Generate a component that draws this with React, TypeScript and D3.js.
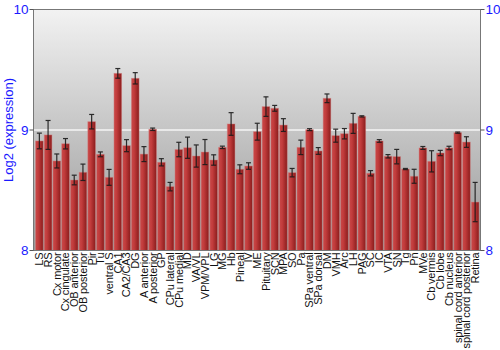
import React from "react";
import * as d3 from "d3";

const categories = ["LS","RS","Cx motor","Cx cingulate","OB anterior","OB posterior","Pir","Tu","ventral S","CA1","CA2/CA3","DG","A anterior","A posterior","GP","CPu lateral","CPu medial","MD","VA/VL","VPM/VPL","LG","MG","Hb","Pineal","IV","ME","Pituitary","SCN","MPA","SO","Pa","SPa ventral","SPa dorsal","DM","VMH","Arc","LH","PAG","SC","IC","VTA","SN","Tg","Pn","MVe","Cb vermis","Cb lobe","Cb nucleus","spinal cord anterior","spinal cord posterior","Retina"];
const values = [8.909,8.959,8.743,8.886,8.585,8.649,9.069,8.798,8.607,9.470,8.870,9.429,8.800,9.006,8.732,8.530,8.838,8.853,8.784,8.817,8.751,8.856,9.050,8.674,8.701,8.986,9.194,9.180,9.041,8.646,8.856,9.003,8.826,9.263,8.953,8.969,9.055,9.113,8.641,8.909,8.782,8.779,8.676,8.616,8.851,8.740,8.809,8.851,8.978,8.900,8.402];
const errors = [0.065,0.12,0.058,0.043,0.04,0.068,0.06,0.02,0.066,0.04,0.05,0.047,0.062,0.01,0.03,0.035,0.06,0.088,0.092,0.104,0.043,0.01,0.094,0.037,0.027,0.07,0.081,0.024,0.053,0.035,0.06,0.008,0.028,0.036,0.054,0.043,0.083,0.005,0.022,0.011,0.014,0.06,0.005,0.058,0.012,0.088,0.022,0.014,0.005,0.044,0.163];
const yTicks = [8, 9, 10];

export default function App() {
  const W = 500, H = 350;
  const left = 33.5, right = 480.5, top = 9.5, bottom = 250.5;
  const x = d3.scaleBand<string>().domain(categories).range([35, 479.5]).paddingInner(0.12).paddingOuter(0.06);
  const y = d3.scaleLinear().domain([8, 10]).range([bottom, top]);
  const bw = x.bandwidth();
  return (
    <svg width={W} height={H} style={{ position: "absolute", left: 0, top: 0, fontFamily: "'Liberation Sans', Arial, sans-serif" }}>
      <defs>
        <linearGradient id="bg" x1="0" y1="0" x2="0" y2="1">
          <stop offset="0%" stopColor="#f2f2f2" />
          <stop offset="100%" stopColor="#989898" />
        </linearGradient>
        <linearGradient id="bar" x1="0" y1="0" x2="1" y2="0">
          <stop offset="0%" stopColor="#c84848" />
          <stop offset="35%" stopColor="#c23c3c" />
          <stop offset="100%" stopColor="#8a1c1c" />
        </linearGradient>
      </defs>
      <rect x={left} y={top} width={right - left} height={bottom - top} fill="url(#bg)" />
      <line x1={left} x2={right} y1={y(9)} y2={y(9)} stroke="#f4f4f4" strokeWidth={1.5} />
      {categories.map((c, i) => {
        const bx = x(c)!;
        const ty = y(values[i]);
        return (
          <rect key={c} x={bx} y={ty} width={bw} height={bottom - ty} fill="url(#bar)" stroke="rgba(210,130,130,0.55)" strokeWidth={0.8} />
        );
      })}
      {categories.map((c, i) => {
        const cx = x(c)! + bw / 2;
        const y1 = y(values[i] + errors[i]);
        const y2 = y(values[i] - errors[i]);
        return (
          <g key={c + "e"} stroke="#1a1a1a" strokeWidth={1.2} opacity={0.9}>
            <line x1={cx} x2={cx} y1={y1} y2={y2} />
            <line x1={cx - 2.5} x2={cx + 2.5} y1={y1} y2={y1} />
            <line x1={cx - 2.5} x2={cx + 2.5} y1={y2} y2={y2} />
          </g>
        );
      })}
      <rect x={left} y={top} width={right - left} height={bottom - top} fill="none" stroke="#777" strokeWidth={1} />
      {yTicks.map((t) => (
        <g key={t}>
          <line x1={left - 4} x2={left} y1={y(t)} y2={y(t)} stroke="#555" />
          <line x1={right} x2={right + 4} y1={y(t)} y2={y(t)} stroke="#555" />
          <text x={left - 5} y={y(t)} dy="0.35em" textAnchor="end" fill="#1a1aff" fontSize={13.5}>{t}</text>
          <text x={right + 5} y={y(t)} dy="0.35em" textAnchor="start" fill="#1a1aff" fontSize={13.5}>{t}</text>
        </g>
      ))}
      <text transform={`translate(13,${(top + bottom) / 2}) rotate(-90)`} textAnchor="middle" fill="#1a1aff" fontSize={13}>Log2 (expression)</text>
      {categories.map((c) => (
        <text key={c + "l"} transform={`translate(${x(c)! + bw / 2},${bottom + 2}) rotate(-90)`} dy="0.35em" textAnchor="end" fill="#111" fontSize={11} letterSpacing={-0.15}>{c}</text>
      ))}
    </svg>
  );
}
